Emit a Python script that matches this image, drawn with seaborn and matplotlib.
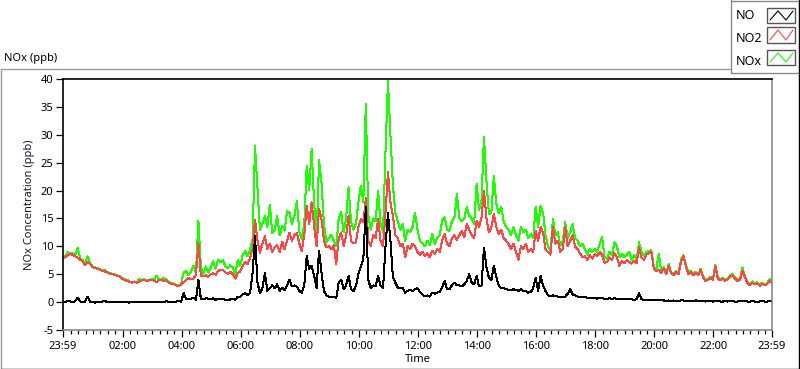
import numpy as np
import pandas as pd
import matplotlib
matplotlib.use("Agg")
import matplotlib.pyplot as plt
import seaborn as sns
from matplotlib.lines import Line2D
from matplotlib.patches import Rectangle
from matplotlib.ticker import FixedLocator

# ---- data: 5-minute samples from 23:59 to 23:59 (289 points) ----
no2 = [
    7.9, 8.1, 8.4, 8.6, 8.5, 8.2, 8.0, 7.6, 7.3, 6.7, 7.2, 6.8,
    6.3, 6.1, 6.0, 5.8, 5.6, 5.5, 5.3, 5.1, 5.0, 4.9, 4.7, 4.6,
    4.2, 4.0, 3.8, 3.6, 3.5, 3.6, 3.5, 3.7, 3.9, 4.0, 3.8, 3.9,
    4.0, 3.8, 3.6, 3.9, 4.0, 3.8, 3.9, 3.5, 3.3, 3.2, 3.0, 2.8,
    3.2, 3.6, 4.0, 4.3, 4.1, 4.2, 4.9, 10.6, 4.7, 4.6, 4.8, 4.5,
    5.0, 5.2, 4.9, 5.6, 5.8, 5.7, 5.3, 5.1, 5.4, 5.0, 4.2, 5.2,
    5.5, 6.5, 7.2, 6.8, 8.0, 9.5, 14.8, 11.0, 8.8, 10.5, 11.8, 9.5,
    10.5, 9.0, 9.8, 10.2, 9.0, 10.8, 9.5, 11.0, 12.4, 11.0, 12.0, 12.4,
    10.5, 9.2, 12.0, 17.3, 14.0, 17.9, 13.7, 10.0, 16.7, 14.9, 11.0, 9.8,
    10.0, 9.5, 10.2, 6.8, 11.5, 12.5, 10.0, 11.9, 15.5, 11.0, 10.5, 10.7,
    13.5, 14.9, 14.3, 18.6, 11.0, 10.0, 12.0, 11.5, 14.9, 11.0, 10.0, 16.0,
    23.3, 17.9, 15.5, 12.0, 11.5, 10.0, 10.5, 8.0, 10.0, 9.5, 10.5, 10.0,
    9.0, 8.5, 9.0, 8.2, 8.8, 8.0, 9.2, 8.6, 9.5, 9.0, 11.0, 12.2,
    10.5, 10.0, 11.5, 12.0, 11.2, 12.0, 12.8, 11.6, 14.0, 13.0, 12.0, 11.5,
    14.6, 13.5, 15.2, 20.0, 15.0, 12.5, 13.4, 15.8, 13.5, 12.2, 13.0, 11.5,
    11.0, 10.4, 9.5, 10.5, 9.0, 7.6, 10.0, 9.5, 10.5, 9.0, 9.5, 9.0,
    12.8, 11.0, 13.5, 12.5, 9.5, 9.0, 8.5, 13.4, 10.5, 11.0, 9.0, 9.5,
    13.4, 10.0, 11.0, 12.0, 10.0, 9.5, 8.8, 8.0, 8.2, 7.6, 8.4, 7.8,
    8.6, 8.2, 9.0, 8.5, 7.0, 7.2, 8.0, 7.6, 8.8, 8.0, 6.5, 7.4,
    7.0, 7.5, 7.2, 6.9, 7.4, 7.0, 9.8, 8.0, 7.6, 8.5, 8.8, 9.0,
    6.0, 5.5, 5.8, 5.2, 6.0, 5.0, 6.5, 5.2, 4.8, 5.4, 5.0, 7.2,
    8.2, 6.5, 5.0, 5.4, 4.8, 5.2, 4.8, 5.8, 4.4, 3.8, 4.0, 4.3,
    4.0, 6.4, 4.2, 3.9, 4.2, 3.8, 4.1, 4.6, 4.8, 4.2, 3.8, 4.0,
    5.6, 4.5, 3.4, 3.0, 3.5, 3.2, 3.4, 2.9, 3.3, 3.0, 3.2, 3.8,
    3.5,
]

nox = [
    8.0, 8.3, 8.9, 8.8, 8.7, 8.4, 9.7, 7.8, 7.5, 6.9, 8.2, 7.0,
    6.4, 6.2, 6.1, 5.9, 5.7, 5.8, 5.4, 5.2, 5.1, 5.0, 4.8, 4.7,
    4.3, 4.1, 4.0, 3.7, 3.6, 3.7, 3.6, 4.1, 4.0, 4.1, 3.9, 4.0,
    4.1, 4.0, 4.7, 4.0, 4.2, 4.3, 4.1, 3.6, 3.5, 3.3, 3.1, 2.9,
    3.3, 5.3, 5.5, 4.8, 5.5, 6.5, 5.2, 14.6, 6.4, 5.0, 6.4, 5.3,
    6.2, 7.3, 6.0, 7.6, 7.2, 7.5, 6.4, 6.1, 6.6, 6.2, 5.0, 7.6,
    6.5, 8.5, 9.1, 8.2, 9.4, 11.2, 28.0, 20.5, 13.0, 14.0, 15.4, 13.5,
    17.5, 12.4, 13.0, 15.4, 12.0, 13.6, 12.8, 16.3, 16.0, 14.0, 15.5, 18.1,
    12.5, 11.3, 14.0, 24.5, 20.0, 27.5, 17.9, 11.3, 25.4, 21.5, 14.0, 10.7,
    11.5, 12.0, 11.0, 10.0, 15.0, 16.1, 12.5, 14.9, 20.6, 14.3, 13.0, 14.0,
    18.0, 20.9, 17.9, 35.6, 15.5, 13.0, 15.0, 14.5, 20.0, 14.0, 12.5, 27.0,
    39.6, 30.0, 21.0, 16.0, 14.5, 13.0, 14.0, 11.0, 13.0, 12.5, 13.5, 16.0,
    13.0, 11.0, 10.5, 10.0, 11.0, 10.2, 12.2, 10.4, 11.5, 12.0, 14.6, 15.2,
    13.0, 12.8, 14.5, 15.2, 19.4, 15.0, 14.5, 15.0, 17.0, 15.5, 15.0, 14.0,
    21.2, 16.5, 18.2, 29.7, 21.8, 15.8, 16.0, 22.7, 17.6, 16.0, 17.0, 14.5,
    13.5, 13.0, 12.0, 13.4, 12.0, 11.0, 13.4, 12.5, 13.0, 11.5, 12.2, 11.5,
    17.1, 13.5, 17.3, 16.0, 12.0, 10.0, 9.0, 14.9, 12.0, 12.5, 10.0, 11.0,
    14.3, 11.5, 12.5, 14.0, 11.5, 11.0, 10.0, 10.5, 9.5, 8.5, 9.6, 9.0,
    9.5, 9.0, 10.5, 11.6, 8.0, 7.8, 9.0, 8.5, 10.7, 10.0, 8.0, 8.6,
    8.0, 8.5, 9.0, 7.6, 8.4, 7.6, 10.7, 9.0, 8.2, 9.0, 9.2, 9.3,
    6.3, 5.8, 8.7, 5.5, 6.3, 5.2, 6.8, 5.4, 5.0, 5.6, 5.2, 7.5,
    8.4, 6.8, 5.3, 5.6, 5.0, 5.4, 5.0, 6.0, 4.6, 4.0, 4.2, 4.5,
    4.1, 6.7, 4.4, 4.1, 4.4, 4.0, 4.2, 4.8, 5.0, 4.4, 4.0, 4.2,
    6.2, 4.7, 3.6, 3.2, 3.7, 3.4, 3.6, 3.1, 3.5, 3.2, 3.4, 4.1,
    3.7,
]

no = [
    0.1, 0.0, 0.2, 0.1, 0.0, 0.2, 0.8, 0.1, 0.0, 0.1, 1.0, 0.1,
    0.1, -0.1, 0.1, 0.0, 0.1, 0.2, 0.0, 0.1, 0.0, 0.1, 0.0, 0.1,
    0.0, 0.1, 0.0, -0.1, 0.1, 0.0, 0.1, 0.1, 0.0, 0.1, 0.0, 0.1,
    0.1, 0.0, 0.1, 0.0, 0.1, 0.0, 0.2, 0.0, 0.1, 0.0, 0.1, 0.2,
    0.1, 1.6, 0.6, 0.5, 0.6, 0.8, 0.4, 4.0, 0.6, 0.5, 0.7, 0.6,
    0.5, 0.7, 0.4, 0.6, 0.5, 0.6, 0.4, 0.3, 0.5, 0.6, 0.4, 1.0,
    1.0, 1.4, 1.6, 1.3, 1.6, 5.2, 11.8, 3.5, 1.6, 2.5, 5.2, 2.0,
    2.5, 3.0, 2.5, 3.2, 2.0, 2.6, 2.2, 3.0, 4.0, 2.8, 3.0, 2.8,
    2.0, 1.7, 3.0, 8.3, 5.9, 6.5, 4.7, 2.5, 9.2, 5.3, 2.0, 1.2,
    1.0, 0.9, 1.0, 0.8, 3.5, 4.0, 2.3, 3.0, 4.7, 2.3, 2.0, 2.9,
    5.0, 6.5, 7.7, 17.0, 4.0, 2.5, 3.0, 2.8, 4.7, 3.0, 2.5, 10.0,
    16.0, 11.0, 4.5, 3.5, 2.6, 2.5, 2.6, 1.7, 2.0, 2.2, 2.0, 2.3,
    2.5, 1.8, 1.4, 1.0, 1.2, 1.0, 1.7, 1.5, 1.7, 1.8, 2.6, 3.8,
    2.3, 2.3, 3.0, 3.5, 3.0, 3.0, 2.8, 3.2, 3.8, 5.0, 3.5, 3.2,
    4.7, 2.8, 3.0, 9.8, 6.2, 4.4, 4.0, 6.5, 4.5, 3.0, 2.5, 2.5,
    2.3, 2.2, 2.1, 2.3, 2.2, 2.0, 2.3, 2.0, 2.0, 1.7, 1.8, 2.5,
    4.4, 2.0, 4.7, 3.0, 2.0, 1.2, 1.0, 1.2, 1.1, 1.0, 1.0, 0.9,
    1.0, 1.5, 2.3, 1.4, 1.2, 1.0, 1.0, 1.0, 0.9, 0.8, 0.8, 0.7,
    0.8, 0.6, 0.8, 0.7, 0.6, 0.6, 0.7, 0.6, 0.7, 0.6, 0.5, 0.6,
    0.5, 0.6, 0.5, 0.5, 0.4, 0.5, 1.6, 0.5, 0.4, 0.4, 0.4, 0.3,
    0.3, 0.3, 0.4, 0.3, 0.3, 0.2, 0.3, 0.2, 0.3, 0.2, 0.2, 0.3,
    0.3, 0.2, 0.2, 0.2, 0.2, 0.3, 0.2, 0.2, 0.2, 0.1, 0.2, 0.2,
    0.1, 0.2, 0.2, 0.1, 0.1, 0.2, 0.1, 0.2, 0.2, 0.1, 0.1, 0.2,
    0.2, 0.2, 0.1, 0.1, 0.2, 0.1, 0.1, 0.1, 0.2, 0.1, 0.1, 0.2,
    0.1,
]

series_names = ["NO", "NO2", "NOx"]
series_colors = {"NO": "#000000", "NO2": "#ff4545", "NOx": "#1cff00"}
tick_labels = ["23:59", "02:00", "04:00", "06:00", "08:00", "10:00", "12:00",
               "14:00", "16:00", "18:00", "20:00", "22:00", "23:59"]
y_ticks = [-5, 0, 5, 10, 15, 20, 25, 30, 35, 40]

hours = np.arange(len(no2)) * 5 / 60.0
df = pd.DataFrame({"hours": hours, "NO": no, "NO2": no2, "NOx": nox})

# ---- styling ----
sns.set_style("white")
plt.rcParams["font.family"] = ["Noto Sans", "DejaVu Sans"]
plt.rcParams["axes.unicode_minus"] = False

W, H = 800, 369
fig = plt.figure(figsize=(W / 100, H / 100), dpi=100)
fig.patch.set_facecolor("white")


def fx(px):
    return px / W


def fy(py):
    return 1 - py / H


ax = fig.add_axes([fx(63), fy(330), fx(772) - fx(63), fy(79) - fy(330)])
ax.set_facecolor("white")

for name in ["NOx", "NO2", "NO"]:
    sns.lineplot(data=df, x="hours", y=name, ax=ax, color=series_colors[name],
                 linewidth=0.72, legend=False, estimator=None, sort=False,
                 antialiased=False)

ax.set_xlim(0, 24)
ax.set_ylim(-5, 40)

major_pos = [0.0] + [h + 1 / 60 for h in range(2, 24, 2)] + [24.0]
ax.xaxis.set_major_locator(FixedLocator(major_pos))
ax.set_xticklabels(tick_labels)
minor_pos = [1 / 60 + k * 0.25 for k in range(1, 96)]
minor_pos = [m for m in minor_pos if all(abs(m - p) > 0.01 for p in major_pos)]
ax.xaxis.set_minor_locator(FixedLocator(minor_pos))
ax.set_yticks(y_ticks)
ax.set_yticklabels([str(v) for v in y_ticks])

ax.tick_params(axis="both", which="major", direction="out", length=5, width=0.9,
               colors="black", labelsize=8, pad=2)
ax.tick_params(axis="x", which="minor", direction="out", length=3, width=0.9,
               colors="black", bottom=True)
ax.tick_params(axis="x", which="major", bottom=True, pad=3)
ax.tick_params(axis="y", which="major", left=True)

for side, col in [("top", "black"), ("left", "black"),
                  ("right", "#8a8a8a"), ("bottom", "#8a8a8a")]:
    ax.spines[side].set_visible(True)
    ax.spines[side].set_color(col)
    ax.spines[side].set_linewidth(1.2)

ax.set_xlabel("Time", fontsize=8, labelpad=1, color="black")
ax.set_ylabel("NOx Concentration (ppb)", fontsize=8, labelpad=4, color="#1a1a30")

# ---- outer panel frame ----
fig.add_artist(Line2D([fx(0.5), fx(730)], [fy(69), fy(69)], transform=fig.transFigure,
                      color="#9a9a9a", lw=1.0))
fig.add_artist(Line2D([fx(0.5), fx(0.5)], [fy(69), fy(368.5)], transform=fig.transFigure,
                      color="#9a9a9a", lw=1.0))
fig.add_artist(Line2D([fx(798.5), fx(798.5)], [fy(72), fy(368.5)], transform=fig.transFigure,
                      color="black", lw=1.0))
fig.add_artist(Line2D([fx(0.5), fx(798.5)], [fy(368.5), fy(368.5)], transform=fig.transFigure,
                      color="black", lw=1.0))

fig.text(fx(4), fy(59), "NOx (ppb)", fontsize=8, ha="left", va="center", color="black")

# ---- legend box ----
fig.add_artist(Line2D([fx(730.5), fx(730.5)], [fy(0), fy(72.5)], transform=fig.transFigure,
                      color="#8a8a8a", lw=1.0))
fig.add_artist(Line2D([fx(730.5), fx(799)], [fy(72.5), fy(72.5)], transform=fig.transFigure,
                      color="#8a8a8a", lw=1.0))
fig.add_artist(Line2D([fx(730.5), fx(799)], [fy(0.5), fy(0.5)], transform=fig.transFigure,
                      color="#8a8a8a", lw=1.0))
fig.add_artist(Line2D([fx(799), fx(799)], [fy(0), fy(72.5)], transform=fig.transFigure,
                      color="black", lw=1.0))

legend_rows = [(15.5, 8, 23), (38.5, 27, 43), (61.5, 50, 65)]
for name, (ty, top, bot) in zip(series_names, legend_rows):
    fig.text(fx(736), fy(ty), name, fontsize=9, ha="left", va="center", color="black")
    x0, x1 = 767, 795
    fig.add_artist(Rectangle((fx(x0), fy(bot)), fx(x1) - fx(x0), fy(top) - fy(bot),
                             transform=fig.transFigure, facecolor="white",
                             edgecolor="#555555", lw=1.0))
    zx = [x0 + 3, x0 + 11, x0 + 19, x0 + 26]
    zy = [bot - 3, top + 3, bot - 3, top + 3]
    fig.add_artist(Line2D([fx(v) for v in zx], [fy(v) for v in zy],
                          transform=fig.transFigure, color=series_colors[name], lw=0.8))

fig.savefig("out.png", dpi=100, facecolor="white")
